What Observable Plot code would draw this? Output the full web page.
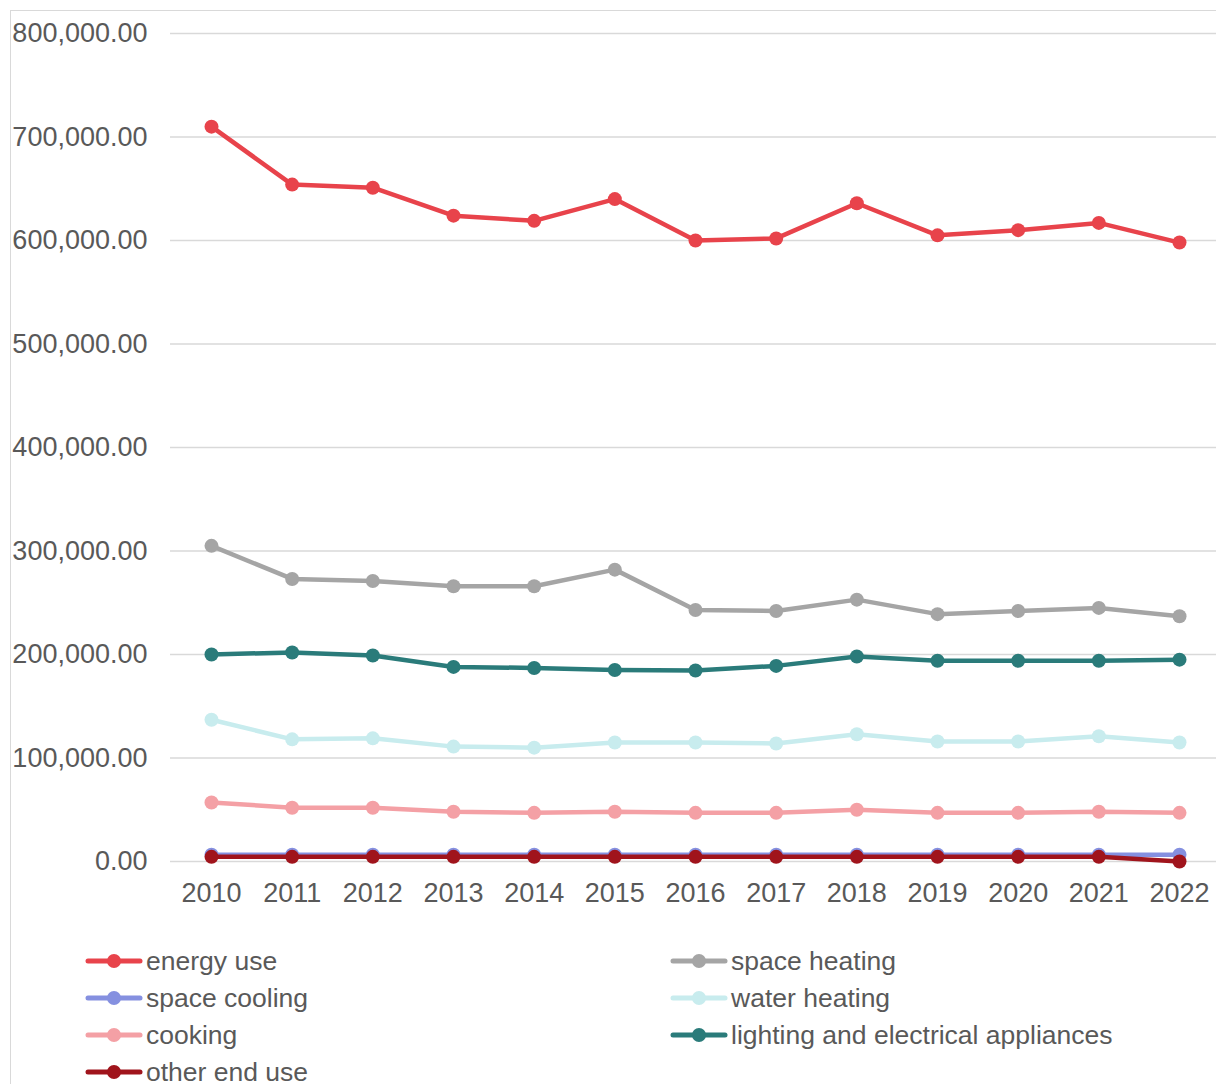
<!DOCTYPE html>
<html>
<head>
<meta charset="utf-8">
<script src="https://cdn.jsdelivr.net/npm/d3@7"></script>
<script src="https://cdn.jsdelivr.net/npm/@observablehq/plot@0.6"></script>
<style>
  html, body { margin: 0; padding: 0; background: #fff; overflow: hidden; }
  body { width: 1216px; height: 1084px; position: relative; font-family: "Liberation Sans", Arial, sans-serif; }
  #frame { position: absolute; left: 10px; top: 10px; width: 1300px; height: 1200px; border: 1.5px solid #d9d9d9; box-sizing: border-box; }
  #chart { position: absolute; left: 0; top: 0; }
  .leg { position: absolute; display: flex; align-items: center; font-size: 26.5px; color: #595959; height: 30px; white-space: nowrap; }
  .leg svg { margin-right: 3px; }
</style>
</head>
<body>
<div id="frame"></div>
<div id="chart"></div>
<div id="legend"></div>
<script>
const years = ["2010","2011","2012","2013","2014","2015","2016","2017","2018","2019","2020","2021","2022"];
const seriesNames = ["energy use","space heating","space cooling","water heating","cooking","lighting and electrical appliances","other end use"];
const seriesColors = ["#e8434b","#a5a5a5","#8590e0","#c8ecee","#f4a0a5","#2a7b7a","#a0141c"];

const energyUse     = [710000,654000,651000,624000,619000,640000,600000,602000,636000,605000,610000,617000,598000];
const spaceHeating  = [305000,273000,271000,266000,266000,282000,243000,242000,253000,239000,242000,245000,237000];
const spaceCooling  = [6500,6500,6500,6500,6500,6500,6500,6500,6500,6500,6500,6500,6500];
const waterHeating  = [137000,118000,119000,111000,110000,115000,115000,114000,123000,116000,116000,121000,115000];
const cooking       = [57000,52000,52000,48000,47000,48000,47000,47000,50000,47000,47000,48000,47000];
const lighting      = [200000,202000,199000,188000,187000,185000,184500,189000,198000,194000,194000,194000,195000];
const otherEndUse   = [4500,4500,4500,4500,4500,4500,4500,4500,4500,4500,4500,4500,0];

const yTicks = [0,100000,200000,300000,400000,500000,600000,700000,800000];

const allValues = [energyUse, spaceHeating, spaceCooling, waterHeating, cooking, lighting, otherEndUse];
const data = [];
seriesNames.forEach((name, i) => {
  years.forEach((yr, j) => data.push({series: name, year: yr, value: allValues[i][j]}));
});

const fmt = d3.format(",.2f");

const marks = [
  Plot.gridY(yTicks, {stroke: "#d9d9d9", strokeOpacity: 1, strokeWidth: 1.5}),
  Plot.axisY(yTicks, {tickSize: 0, tickPadding: 23, tickFormat: fmt, fontSize: 27, fill: "#595959"}),
  Plot.axisX({tickSize: 0, tickPadding: 21, fontSize: 27, fill: "#595959"})
];
seriesNames.forEach((name, i) => {
  const d = data.filter(r => r.series === name);
  marks.push(Plot.line(d, {x: "year", y: "value", stroke: seriesColors[i], strokeWidth: 4.5, strokeLinejoin: "round", strokeLinecap: "round"}));
  marks.push(Plot.dot(d, {x: "year", y: "value", fill: seriesColors[i], r: 7}));
});

const chart = Plot.plot({
  width: 1216,
  height: 930,
  marginLeft: 170,
  marginRight: 0,
  marginTop: 33,
  marginBottom: 69,
  style: {background: "transparent", fontFamily: "'Liberation Sans', Arial, sans-serif"},
  x: {type: "point", domain: years, range: [211, 1179], padding: 0, round: false, label: null},
  y: {domain: [0, 800000], label: null},
  marks
});
document.getElementById("chart").appendChild(chart);

// Legend
const legend = document.getElementById("legend");
const rowY = [961, 998, 1035, 1072];
const colX = [85, 670];
seriesNames.forEach((name, i) => {
  const col = i % 2, row = Math.floor(i / 2);
  const div = document.createElement("div");
  div.className = "leg";
  div.style.left = colX[col] + "px";
  div.style.top = (rowY[row] - 15) + "px";
  const c = seriesColors[i];
  div.innerHTML = `<svg width="58" height="20"><line x1="3" y1="10" x2="55" y2="10" stroke="${c}" stroke-width="5" stroke-linecap="round"/><circle cx="29" cy="10" r="7" fill="${c}"/></svg><span>${name}</span>`;
  legend.appendChild(div);
});
</script>
</body>
</html>
